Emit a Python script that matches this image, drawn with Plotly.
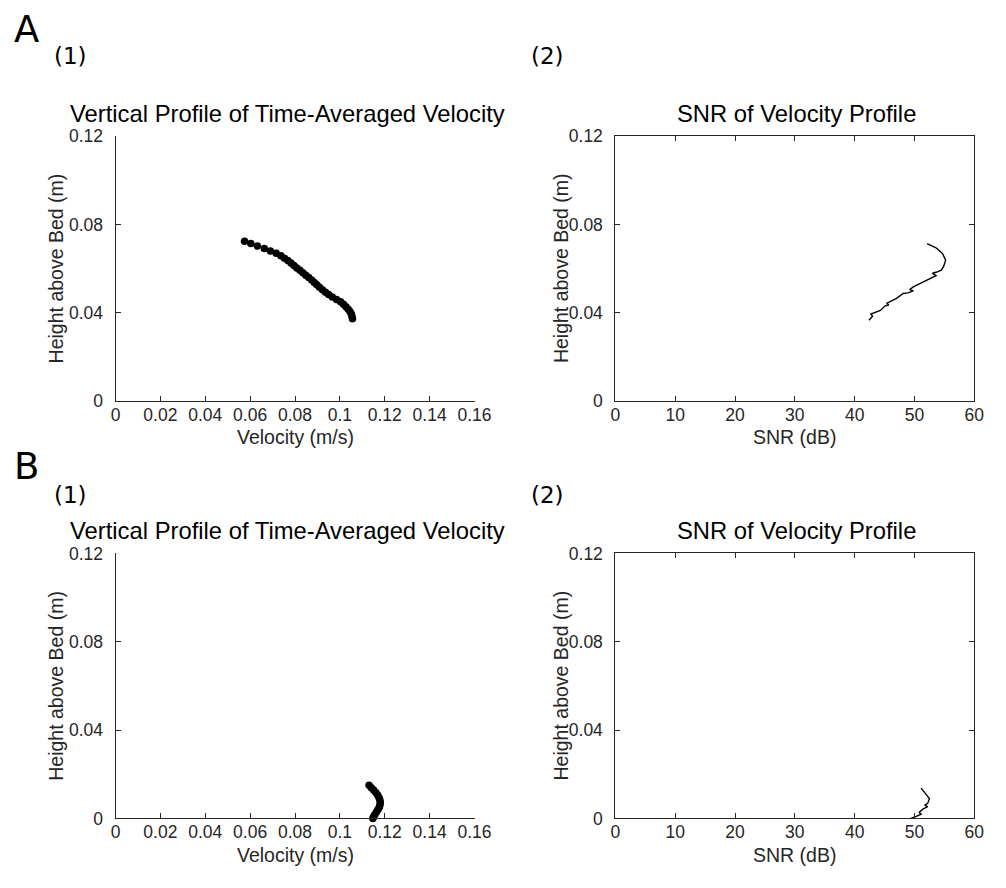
import plotly.graph_objects as go

W, H = 1006, 888

# ---------------- data ----------------
# A(1): time-averaged velocity profile
a_height = [0.0724, 0.0713, 0.0702, 0.0691, 0.0680, 0.0669, 0.0658, 0.0647, 0.0636,
            0.0625, 0.0614, 0.0603, 0.0592, 0.0581, 0.0570, 0.0559, 0.0548, 0.0537,
            0.0526, 0.0515, 0.0504, 0.0493, 0.0482, 0.0471, 0.0460, 0.0449, 0.0438,
            0.0427, 0.0416, 0.0405, 0.0394, 0.0383, 0.0372]
a_velocity = [0.0575, 0.0603, 0.0632, 0.0663, 0.0690, 0.0716, 0.0737, 0.0753, 0.0768,
              0.0782, 0.0795, 0.0808, 0.0822, 0.0835, 0.0848, 0.0861, 0.0874, 0.0886,
              0.0897, 0.0909, 0.0922, 0.0936, 0.0950, 0.0966, 0.0985, 0.1003, 0.1016,
              0.1027, 0.1037, 0.1045, 0.1051, 0.1054, 0.1056]

# A(2): SNR profile
a_snr_height = [0.0713, 0.0694, 0.0667, 0.0638, 0.0612, 0.0593, 0.0583, 0.0579, 0.0568,
                0.0558, 0.0534, 0.0517, 0.0505, 0.0499, 0.0490, 0.0487, 0.0465, 0.0450,
                0.0443, 0.0435, 0.0431, 0.0410, 0.0401, 0.0394, 0.0384, 0.0366]
a_snr = [52.1, 53.6, 54.7, 55.2, 54.9, 54.5, 53.6, 53.0, 53.6,
         52.8, 51.1, 49.8, 49.2, 49.8, 48.9, 48.1, 47.0, 45.9,
         45.4, 45.7, 45.1, 44.3, 43.2, 42.7, 43.0, 42.4]

# B(1): time-averaged velocity profile
b_height = [0.0150, 0.0139, 0.0128, 0.0117, 0.0106, 0.0095, 0.0084, 0.0073,
            0.0062, 0.0051, 0.0040, 0.0029, 0.0018, 0.0007, 0.0000]
b_velocity = [0.1130, 0.1140, 0.1150, 0.1160, 0.1168, 0.1174, 0.1178, 0.1180,
              0.1179, 0.1176, 0.1170, 0.1163, 0.1156, 0.1150, 0.1147]

# B(2): SNR profile
b_snr_height = [0.0137, 0.0112, 0.0090, 0.0068, 0.0060, 0.0053, 0.0042, 0.0028,
                0.0019, 0.0009, 0.0000]
b_snr = [51.1, 51.9, 52.5, 52.2, 51.7, 52.2, 51.4, 50.8, 51.1, 50.3, 49.4]

vel_ticks = [0, 0.02, 0.04, 0.06, 0.08, 0.1, 0.12, 0.14, 0.16]
vel_ticktext = ["0", "0.02", "0.04", "0.06", "0.08", "0.1", "0.12", "0.14", "0.16"]
snr_ticks = [0, 10, 20, 30, 40, 50, 60]
h_ticks = [0, 0.04, 0.08, 0.12]
h_ticktext = ["0", "0.04", "0.08", "0.12"]

title_vel = "Vertical Profile of Time-Averaged Velocity"
title_snr = "SNR of Velocity Profile"
xlab_vel = "Velocity (m/s)"
xlab_snr = "SNR (dB)"
ylab = "Height above Bed (m)"

# ---------------- layout helpers ----------------
AX = "#262626"
FONT = "Liberation Sans, Arial, sans-serif"
TICKF = dict(family=FONT, size=17.5, color=AX)

def px(x):
    return x / W

def py(y):
    return 1 - y / H

left_dom = [px(113), px(480)]
right_dom = [px(624), px(991)]
top_dom = [py(400), py(129)]
bot_dom = [py(827), py(556)]

fig = go.Figure()

marker = dict(color="black", size=7.5, line=dict(width=0))
fig.add_trace(go.Scatter(x=a_velocity, y=a_height, mode="markers", marker=marker,
                         xaxis="x", yaxis="y", showlegend=False, cliponaxis=False))
fig.add_trace(go.Scatter(x=a_snr, y=a_snr_height, mode="lines",
                         line=dict(color="black", width=1.4),
                         xaxis="x2", yaxis="y2", showlegend=False))
fig.add_trace(go.Scatter(x=b_velocity, y=b_height, mode="markers", marker=marker,
                         xaxis="x3", yaxis="y3", showlegend=False, cliponaxis=False))
fig.add_trace(go.Scatter(x=b_snr, y=b_snr_height, mode="lines",
                         line=dict(color="black", width=1.4),
                         xaxis="x4", yaxis="y4", showlegend=False))


def xaxis(dom, anchor, rng, ticks, ticktext, mirror):
    d = dict(domain=dom, anchor=anchor, range=rng, tickvals=ticks,
             showgrid=False, zeroline=False, showline=True, linecolor=AX, linewidth=1,
             ticks="inside", ticklen=5, tickwidth=1, tickcolor=AX,
             tickfont=TICKF, ticklabelstandoff=-2, fixedrange=True)
    if ticktext is not None:
        d["ticktext"] = ticktext
    if mirror:
        d["mirror"] = "ticks"
    return d


def yaxis(dom, anchor, mirror):
    d = dict(domain=dom, anchor=anchor, range=[0, 0.12], tickvals=h_ticks,
             ticktext=h_ticktext,
             showgrid=False, zeroline=False, showline=True, linecolor=AX, linewidth=1,
             ticks="inside", ticklen=5, tickwidth=1, tickcolor=AX,
             tickfont=TICKF, ticklabelstandoff=8, fixedrange=True)
    if mirror:
        d["mirror"] = "ticks"
    return d


fig.update_layout(
    width=W, height=H,
    margin=dict(l=0, r=0, t=0, b=0),
    paper_bgcolor="white", plot_bgcolor="white",
    xaxis=xaxis(left_dom, "y", [0, 0.16], vel_ticks, vel_ticktext, False),
    yaxis=yaxis(top_dom, "x", False),
    xaxis2=xaxis(right_dom, "y2", [0, 60], snr_ticks, None, True),
    yaxis2=yaxis(top_dom, "x2", True),
    xaxis3=xaxis(left_dom, "y3", [0, 0.16], vel_ticks, vel_ticktext, False),
    yaxis3=yaxis(bot_dom, "x3", False),
    xaxis4=xaxis(right_dom, "y4", [0, 60], snr_ticks, None, True),
    yaxis4=yaxis(bot_dom, "x4", True),
)

ann = []

def add_text(text, x, y, size, color="black", family=FONT, angle=0):
    ann.append(dict(text=text, x=px(x), y=py(y), xref="paper", yref="paper",
                    showarrow=False, xanchor="center", yanchor="middle",
                    textangle=angle, font=dict(family=family, size=size, color=color)))

DV = "DejaVu Sans, sans-serif"
# panel letters and numbers
add_text("A", 22, 20, 37, family=DV)
add_text("B", 22, 467, 37, family=DV)
add_text("(1)", 67, 47, 23, family=DV)
add_text("(2)", 555, 47, 23, family=DV)
add_text("(1)", 67, 496, 23, family=DV)
add_text("(2)", 555, 496, 23, family=DV)

for (x0, ytop, ybot, title, xlab, ylx) in [
        (113, 129, 400, title_vel, xlab_vel, 52),
        (624, 129, 400, title_snr, xlab_snr, 568),
        (113, 556, 827, title_vel, xlab_vel, 52),
        (624, 556, 827, title_snr, xlab_snr, 568)]:
    cx = x0 + 183.5
    tx = cx - 8 if title == title_vel else cx + 2
    add_text(title, tx, ytop - 23, 23.8, color="black")
    add_text(xlab, cx, ybot + 37, 19.5, color=AX)
    add_text(ylab, ylx, (ytop + ybot) / 2, 19.5, color=AX, angle=-90)

fig.update_layout(annotations=ann)

fig.write_html("out.html")
